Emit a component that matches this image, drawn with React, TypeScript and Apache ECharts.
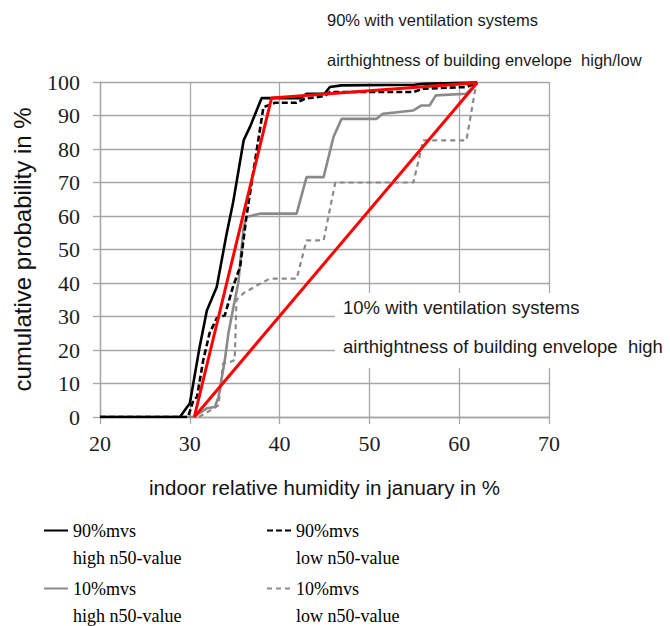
import React, { useEffect, useRef } from "react";
import * as echarts from "echarts";

// x = indoor relative humidity (%), y = cumulative probability (%)
const mvs90High: [number, number][] = [
  [20, 0], [28.9, 0], [29.7, 3], [30, 4], [31.1, 21], [31.9, 31.8], [33, 38.8], [34.1, 54.7],
  [34.8, 63.7], [36, 82.6], [36.7, 86.6], [38, 95.2], [42.3, 95.2], [43, 96.5], [45, 96.5],
  [45.6, 98.5], [46.9, 99], [55, 99.2], [56, 99.5], [62, 99.8],
];
const mvs90Low: [number, number][] = [
  [20, 0], [29.8, 0], [30.4, 5], [30.8, 6], [31.5, 17], [32.2, 25], [33, 29.5], [33.9, 30.4],
  [34.8, 38.8], [35.6, 44.8], [36.3, 59.7], [37.1, 73.6], [38.2, 92.5], [39.5, 93.8],
  [41.9, 93.8], [42.8, 95], [45, 95.8], [45.6, 97], [54.9, 97], [56, 98], [60.8, 98.5], [62, 99.8],
];
const mvs10High: [number, number][] = [
  [20, 0], [30.4, 0], [31.9, 2.6], [32.8, 3], [33.2, 6], [33.9, 17], [34.3, 25], [34.8, 32],
  [35.4, 40], [36, 56.7], [36.3, 59.7], [37.8, 60.7], [41.9, 60.7], [43, 71.6], [44.9, 71.6],
  [46, 83.6], [46.9, 89], [50.8, 89], [51.5, 90.5], [54.9, 91.5], [55.8, 93], [56.7, 93],
  [57.4, 96], [60.8, 96.5], [62, 99.8],
];
const mvs10Low: [number, number][] = [
  [20, 0], [31, 0], [31.7, 1], [33.2, 3.5], [33.7, 16], [34.5, 16.4], [35, 17], [35.2, 35],
  [36, 37], [37.5, 39.3], [38.9, 41.3], [41.9, 41.3], [43, 52.7], [44.9, 52.7], [46.2, 70],
  [54.9, 70], [56, 82.6], [60.8, 82.6], [61.9, 99.5], [62, 99.8],
];
const redUpper: [number, number][] = [[30.5, 0], [39.1, 95.2], [62, 99.8]];
const redLower: [number, number][] = [[30.5, 0], [62, 99.8]];

const seriesNames = ["90%mvs high", "90%mvs low", "10%mvs high", "10%mvs low"];
const legendLabels: Record<string, string> = {
  "90%mvs high": "90%mvs\nhigh n50-value",
  "90%mvs low": "90%mvs\nlow n50-value",
  "10%mvs high": "10%mvs\nhigh n50-value",
  "10%mvs low": "10%mvs\nlow n50-value",
};

const xTicks = { min: 20, max: 70, interval: 10 };
const yTicks = { min: 0, max: 100, interval: 10 };

const GRID = "#a6a6a6";
const SANS = "Liberation Sans, Arial, sans-serif";
const SERIF = "Liberation Serif, Times New Roman, serif";

export default function App() {
  const ref = useRef<HTMLDivElement>(null);
  useEffect(() => {
    if (!ref.current) return;
    const chart = echarts.init(ref.current, undefined, { renderer: "svg" });
    const legendText = {
      fontFamily: SERIF,
      fontSize: 18,
      lineHeight: 27,
      color: "#000",
    };
    // leading empty line keeps the icon level with the first text line
    const mkLegend = (name: string, left: number, top: number) => ({
      data: [name],
      left,
      top,
      padding: 0,
      itemWidth: 24,
      itemHeight: 14,
      formatter: (n: string) => "\n" + legendLabels[n],
      textStyle: legendText,
      itemStyle: { color: "transparent", borderWidth: 0, opacity: 0 },
      selectedMode: false,
    });
    chart.setOption({
      animation: false,
      backgroundColor: "#fff",
      grid: { left: 100, top: 82, width: 449, height: 335, containLabel: false },
      legend: [
        mkLegend(seriesNames[0], 43, 490),
        mkLegend(seriesNames[1], 266, 490),
        mkLegend(seriesNames[2], 43, 548),
        mkLegend(seriesNames[3], 266, 548),
      ],
      xAxis: {
        type: "value",
        ...xTicks,
        name: "indoor relative humidity in january in %",
        nameLocation: "middle",
        nameGap: 60,
        nameTextStyle: { fontFamily: SANS, fontSize: 20.5, color: "#111" },
        axisLine: { show: true, lineStyle: { color: GRID, width: 1.3 } },
        axisTick: { show: true, length: 7, lineStyle: { color: GRID, width: 1.3 } },
        axisLabel: { fontFamily: SERIF, fontSize: 22, color: "#1c1c1c", margin: 15 },
        splitLine: { show: true, lineStyle: { color: GRID, width: 1.3 } },
      },
      yAxis: {
        type: "value",
        ...yTicks,
        name: "cumulative probability in %",
        nameLocation: "middle",
        nameGap: 66,
        nameTextStyle: { fontFamily: SANS, fontSize: 24, color: "#111" },
        axisLine: { show: true, lineStyle: { color: GRID, width: 1.3 } },
        axisTick: { show: true, length: 7, lineStyle: { color: GRID, width: 1.3 } },
        axisLabel: { fontFamily: SERIF, fontSize: 22, color: "#1c1c1c", margin: 20 },
        splitLine: { show: true, lineStyle: { color: GRID, width: 1.3 } },
      },
      series: [
        {
          name: seriesNames[0], type: "line", data: mvs90High, symbol: "none", z: 5,
          lineStyle: { color: "#000", width: 2.6 }, itemStyle: { color: "#000" },
        },
        {
          name: seriesNames[1], type: "line", data: mvs90Low, symbol: "none", z: 5,
          lineStyle: { color: "#000", width: 2.6, type: [6, 3] }, itemStyle: { color: "#000" },
        },
        {
          name: seriesNames[2], type: "line", data: mvs10High, symbol: "none", z: 4,
          lineStyle: { color: "#8a8a8a", width: 2.6 }, itemStyle: { color: "#8a8a8a" },
        },
        {
          name: seriesNames[3], type: "line", data: mvs10Low, symbol: "none", z: 4,
          lineStyle: { color: "#8a8a8a", width: 2.2, type: [5, 4] }, itemStyle: { color: "#8a8a8a" },
        },
        {
          name: "red upper", type: "line", data: redUpper, symbol: "none", z: 6,
          lineStyle: { color: "#ff0000", width: 3 }, itemStyle: { color: "#ff0000" },
        },
        {
          name: "red lower", type: "line", data: redLower, symbol: "none", z: 6,
          lineStyle: { color: "#ff0000", width: 3 }, itemStyle: { color: "#ff0000" },
        },
      ],
      graphic: [
        {
          type: "text", left: 327, top: 11, z: 100,
          style: { text: "90% with ventilation systems", font: `16.5px ${SANS}`, fill: "#1a1a1a" },
        },
        {
          type: "text", left: 327, top: 51, z: 100,
          style: { text: "airthightness of building envelope  high/low", font: `16.5px ${SANS}`, fill: "#1a1a1a" },
        },
        {
          type: "rect", left: 335, top: 293, z: 99,
          shape: { width: 335, height: 75 },
          style: { fill: "#fff" },
        },
        {
          type: "text", left: 343, top: 298, z: 100,
          style: { text: "10% with ventilation systems", font: `18.5px ${SANS}`, fill: "#1a1a1a" },
        },
        {
          type: "text", left: 343, top: 337, z: 100,
          style: { text: "airthightness of building envelope  high", font: `18.5px ${SANS}`, fill: "#1a1a1a" },
        },
      ],
    });
    return () => chart.dispose();
  }, []);
  return (
    <div
      ref={ref}
      style={{ position: "absolute", left: 0, top: 0, width: 670, height: 626 }}
    />
  );
}
